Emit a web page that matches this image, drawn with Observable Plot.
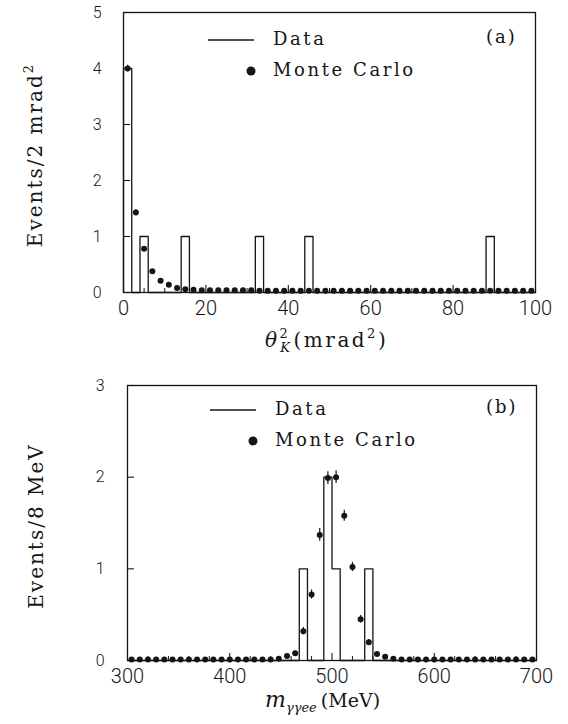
<!DOCTYPE html>
<html><head><meta charset="utf-8">
<script src="https://cdn.jsdelivr.net/npm/d3@7"></script>
<script src="https://cdn.jsdelivr.net/npm/@observablehq/plot@0.6"></script>
<style>body{margin:0;background:#fff} svg{display:block}</style>
</head><body><div id="chart"></div>
<script>
// ---------- Panel (a): theta_K^2 ----------
const thetaBinWidth = 2;
const thetaBinLeftEdges = [0, 4, 14, 32, 44, 88];
const thetaBinCounts    = [4, 1, 1, 1, 1, 1];
const thetaMcCenters = [1,3,5,7,9,11,13,15,17,19,21,23,25,27,29,31,33,35,37,39,41,43,45,47,49,
                        51,53,55,57,59,61,63,65,67,69,71,73,75,77,79,81,83,85,87,89,91,93,95,97,99];
const thetaMcValues  = [4.0,1.43,0.78,0.38,0.21,0.14,0.08,0.06,0.05,0.04,0.04,0.04,0.04,0.04,0.04,0.04,0.03,0.03,0.03,0.03,0.03,0.03,0.03,0.03,0.03,
                        0.03,0.03,0.03,0.03,0.03,0.03,0.03,0.03,0.03,0.03,0.03,0.03,0.03,0.03,0.03,0.03,0.03,0.03,0.03,0.03,0.03,0.03,0.03,0.03,0.03];
const thetaMcErrors  = [0.06,0.05,0.04,0.03,0.03,0.03,0.02,0.02,0.02,0.02,0.02,0.02,0.02,0.02,0.02,0.02,0.02,0.02,0.02,0.02,0.02,0.02,0.02,0.02,0.02,
                        0.02,0.02,0.02,0.02,0.02,0.02,0.02,0.02,0.02,0.02,0.02,0.02,0.02,0.02,0.02,0.02,0.02,0.02,0.02,0.02,0.02,0.02,0.02,0.02,0.02];
const thetaXDomain = [0, 100];
const thetaYDomain = [0, 5];
const thetaXTicks = [0, 20, 40, 60, 80, 100];
const thetaXMinorTicks = [5, 10, 15, 25, 30, 35, 45, 50, 55, 65, 70, 75, 85, 90, 95];
const thetaYTicks = [0, 1, 2, 3, 4, 5];

// ---------- Panel (b): m_gammagammaee ----------
const massBinWidth = 8;
const massBinLeftEdges = [468, 492, 500, 532];
const massBinCounts    = [1, 2, 1, 1];
const massMcCenters = [304,312,320,328,336,344,352,360,368,376,384,392,400,408,416,424,432,440,
                       448,456,464,472,480,488,496,504,512,520,528,536,544,552,560,
                       568,576,584,592,600,608,616,624,632,640,648,656,664,672,680,688,696];
const massMcValues  = [0.01,0.01,0.01,0.01,0.01,0.01,0.01,0.01,0.01,0.01,0.01,0.01,0.01,0.01,0.01,0.01,0.01,0.01,
                       0.02,0.05,0.08,0.32,0.72,1.37,1.99,2.00,1.58,1.02,0.45,0.20,0.07,0.04,0.02,
                       0.01,0.01,0.01,0.01,0.01,0.01,0.01,0.01,0.01,0.01,0.01,0.01,0.01,0.01,0.01,0.01,0.01];
const massMcErrors  = [0.01,0.01,0.01,0.01,0.01,0.01,0.01,0.01,0.01,0.01,0.01,0.01,0.01,0.01,0.01,0.01,0.01,0.01,
                       0.01,0.02,0.02,0.04,0.05,0.07,0.07,0.07,0.06,0.05,0.04,0.03,0.02,0.02,0.01,
                       0.01,0.01,0.01,0.01,0.01,0.01,0.01,0.01,0.01,0.01,0.01,0.01,0.01,0.01,0.01,0.01,0.01];
const massXDomain = [300, 700];
const massYDomain = [0, 3];
const massXTicks = [300, 400, 500, 600, 700];
const massXMinorTicks = [320, 340, 360, 380, 420, 440, 460, 480, 520, 540, 560, 580, 620, 640, 660, 680];
const massYTicks = [0, 1, 2, 3];

const ink = "#151515";
const serif = "'DejaVu Serif', 'Liberation Serif', serif";

function histogramSteps(leftEdges, counts, domain, binWidth) {
  const lookup = new Map(leftEdges.map((e, i) => [e, counts[i]]));
  const pts = [{x: domain[0], y: 0}];
  for (let e = domain[0]; e < domain[1]; e += binWidth) pts.push({x: e, y: lookup.get(e) || 0});
  pts.push({x: domain[1], y: 0});
  return pts;
}

function panel(cfg) {
  const steps = histogramSteps(cfg.binLeftEdges, cfg.binCounts, cfg.xDomain, cfg.binWidth);
  const mc = cfg.mcCenters.map((x, i) => ({x, y: cfg.mcValues[i], e: cfg.mcErrors[i]}));
  const innerW = cfg.width - cfg.marginLeft - cfg.marginRight;
  const innerH = cfg.height - cfg.marginTop - cfg.marginBottom;
  return Plot.plot({
    width: cfg.width, height: cfg.height,
    marginLeft: cfg.marginLeft, marginRight: cfg.marginRight,
    marginTop: cfg.marginTop, marginBottom: cfg.marginBottom,
    x: {domain: cfg.xDomain},
    y: {domain: cfg.yDomain},
    style: {fontFamily: "Roboto, 'DejaVu Sans', sans-serif", fontWeight: 300, color: ink, background: "#fff"},
    marks: [
      Plot.line(steps, {x: "x", y: "y", curve: "step-after", stroke: ink, strokeWidth: 1.3}),
      Plot.ruleX(mc, {x: "x", y1: d => d.y - d.e, y2: d => d.y + d.e, stroke: ink, strokeWidth: 1.2}),
      Plot.dot(mc, {x: "x", y: "y", r: 3, fill: ink, stroke: "none"}),
      Plot.ruleX(cfg.xMinorTicks, {x: d => d, insetTop: innerH - 4, stroke: ink, strokeWidth: 1}),
      Plot.ruleX(cfg.xTicks, {x: d => d, insetTop: innerH - 7, stroke: ink, strokeWidth: 1.1}),
      Plot.ruleY(cfg.yTicks, {y: d => d, insetRight: innerW - 7, stroke: ink, strokeWidth: 1.1}),
      Plot.frame({stroke: ink, strokeWidth: 1.3}),
      Plot.axisX({ticks: cfg.xTicks, tickSize: 0, tickPadding: 8, fontSize: 20, label: null, tickFormat: d => String(d)}),
      Plot.axisY({ticks: cfg.yTicks, tickSize: 0, tickPadding: cfg.yPad, fontSize: 16, label: null, tickFormat: d => String(d)})
    ]
  });
}

function serifText(sel, size, spacing) {
  return sel.style("font-family", serif).style("font-size", size + "px").style("font-weight", "400")
    .style("letter-spacing", spacing + "px").style("fill", ink);
}

function addLegend(svg, tag, x0) {
  const g = d3.select(svg).append("g");
  g.append("line").attr("x1", x0).attr("x2", x0 + 46).attr("y1", 40).attr("y2", 40)
    .attr("stroke", ink).attr("stroke-width", 1.3);
  g.append("circle").attr("cx", x0 + 43).attr("cy", 71).attr("r", 4.5).attr("fill", ink);
  serifText(g.append("text").attr("x", x0 + 65).attr("y", 45).attr("text-anchor", "start"), 18, 2.6).text("Data");
  serifText(g.append("text").attr("x", x0 + 65).attr("y", 76).attr("text-anchor", "start"), 18, 2.6).text("Monte Carlo");
  serifText(g.append("text").attr("x", 486).attr("y", 43).attr("text-anchor", "start"), 18, 2).text(tag);
}

const root = document.getElementById("chart");

// Panel (a)
const svgA = panel({
  width: 568, height: 370, marginLeft: 123, marginRight: 33, marginTop: 12, marginBottom: 78, yPad: 22,
  binLeftEdges: thetaBinLeftEdges, binCounts: thetaBinCounts, binWidth: thetaBinWidth,
  mcCenters: thetaMcCenters, mcValues: thetaMcValues, mcErrors: thetaMcErrors,
  xDomain: thetaXDomain, yDomain: thetaYDomain, xTicks: thetaXTicks, xMinorTicks: thetaXMinorTicks, yTicks: thetaYTicks
});
addLegend(svgA, "(a)", 208);
{
  const s = d3.select(svgA);
  const yt = serifText(s.append("text").attr("transform", "translate(42,155) rotate(-90)")
    .attr("text-anchor", "middle"), 20, 2);
  yt.append("tspan").text("Events/2 mrad");
  yt.append("tspan").style("font-size", "13px").attr("dy", -9).text("2");
  const xt = serifText(s.append("text").attr("x", 265).attr("y", 347).attr("text-anchor", "start"), 20, 2.5);
  xt.append("tspan").style("font-style", "italic").text("θ");
  xt.append("tspan").style("font-size", "13px").attr("dy", -9).text("2");
  xt.append("tspan").style("font-size", "13px").style("font-style", "italic").attr("dx", -10).attr("dy", 14).text("K");
  xt.append("tspan").attr("dy", -5).attr("dx", 1).text("(mrad");
  xt.append("tspan").style("font-size", "13px").attr("dy", -9).text("2");
  xt.append("tspan").attr("dy", 9).text(")");
}
root.appendChild(svgA);

// Panel (b)
const svgB = panel({
  width: 568, height: 354, marginLeft: 127, marginRight: 32, marginTop: 15, marginBottom: 64, yPad: 23,
  binLeftEdges: massBinLeftEdges, binCounts: massBinCounts, binWidth: massBinWidth,
  mcCenters: massMcCenters, mcValues: massMcValues, mcErrors: massMcErrors,
  xDomain: massXDomain, yDomain: massYDomain, xTicks: massXTicks, xMinorTicks: massXMinorTicks, yTicks: massYTicks
});
addLegend(svgB, "(b)", 210);
{
  const s = d3.select(svgB);
  serifText(s.append("text").attr("transform", "translate(43,156) rotate(-90)")
    .attr("text-anchor", "middle"), 20, 2).text("Events/8 MeV");
  const xt = serifText(s.append("text").attr("x", 265).attr("y", 337).attr("text-anchor", "start"), 19, 0);
  xt.append("tspan").style("font-style", "italic").style("font-size", "22px").text("m");
  xt.append("tspan").style("font-style", "italic").style("font-size", "13px").attr("dy", 5).text("γγee");
  xt.append("tspan").attr("dy", -5).attr("dx", 4).text("(MeV)");
}
root.appendChild(svgB);
</script>
</body></html>
